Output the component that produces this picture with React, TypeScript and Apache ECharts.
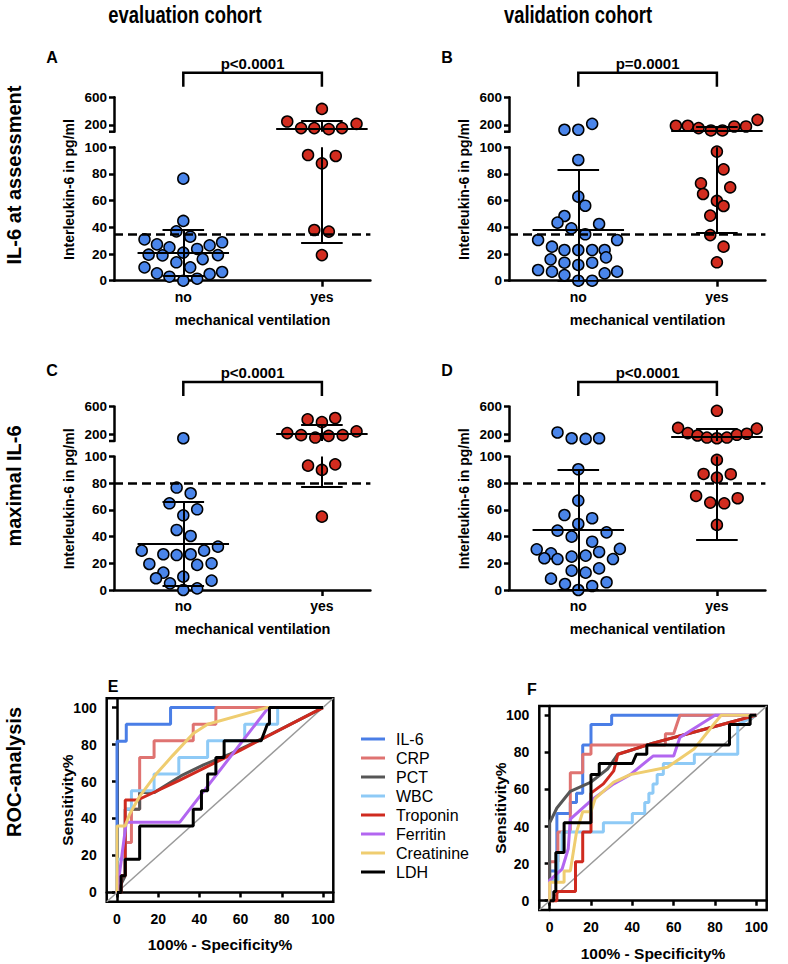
import React, { useEffect, useRef } from "react";
import * as echarts from "echarts";

const FONT = "'Liberation Sans', Arial, Helvetica, sans-serif";
const GROUPS = ["no", "yes"];

// ---- Dot plots: IL-6 values (pg/ml) and horizontal jitter (category units) ----
const aNoVals = [76.5, 44.8, 37, 33, 31, 28.8, 27.2, 25, 23.8, 26.5, 19.5, 19, 21, 19.2, 16.2, 13.8, 10, 10, 5.5, 5, 6.5, 3, 1.5, 0];
const aNoOff = [0, 0, -0.05, 0.05, -0.28, 0.28, -0.19, -0.1, 0.1, 0.19, -0.25, -0.15, 0, 0.25, 0.14, -0.05, -0.28, 0.05, -0.19, 0.19, 0.28, -0.1, 0.1, 0];
const aYesVals = [431, 248, 214, 152, 152, 137, 152, 94.2, 93.5, 88, 38, 36.8, 19.2];
const aYesOff = [0, -0.25, 0.25, -0.15, -0.055, 0.05, 0.145, -0.1, 0.1, 0, -0.055, 0.05, 0];
const aNoStats = [21, 4, 38]; // median, lower, upper
const aYesStats = [142, 28.8, 258];

const bNoVals = [128, 128, 214, 90.5, 63, 56.2, 48.5, 43.5, 42.5, 39.2, 34.8, 30.5, 30.5, 25.5, 23, 23, 23, 23, 16, 17.5, 13.5, 11.8, 13.5, 8, 6.8, 5.5, 6.8, 4.2, 0, 0];
const bNoOff = [-0.1, 0, 0.1, 0, 0, 0.05, -0.1, -0.15, 0.15, -0.05, 0.05, -0.29, 0.28, -0.19, -0.1, 0, 0.1, 0.19, -0.2, 0.2, -0.1, 0, 0.1, -0.29, -0.19, 0.19, 0.28, -0.1, 0, 0.1];
const bYesVals = [186, 186, 152, 118, 118, 176, 176, 272, 96.8, 83.5, 73, 70, 65, 59.8, 56, 48.8, 34.2, 25.5, 13.8];
const bYesOff = [-0.296, -0.21, -0.132, -0.043, 0.04, 0.125, 0.21, 0.293, 0, 0.048, -0.115, 0.096, -0.1, 0, 0.048, -0.048, -0.048, 0.048, 0];
const bNoStats = [38, 0, 83];
const bYesStats = [121, 36.2, 166];

const cNoVals = [140, 76.8, 72.5, 65, 60.5, 56, 45, 40.5, 32.5, 29.5, 26.8, 26.2, 26.8, 29.5, 19.5, 18.8, 20, 13, 8.8, 10, 7, 5, 1.2, 0];
const cNoOff = [0, -0.048, 0.053, -0.1, 0.1, 0, -0.048, 0.053, 0.25, -0.3, -0.144, -0.048, 0.053, 0.15, -0.245, 0.1, 0.204, -0.144, -0.197, 0, 0.204, -0.096, 0.1, 0];
const cYesVals = [414, 374, 434, 215, 185, 150, 175, 185, 240, 93.2, 94.2, 90, 55];
const cYesOff = [-0.103, 0, 0.096, -0.25, -0.15, -0.048, 0.048, 0.15, 0.25, -0.1, 0.096, 0, 0];
const cNoStats = [34.5, 3.5, 66];
const cYesStats = [205, 77.5, 330];

const dNoVals = [224, 140, 130, 140, 90.5, 67, 56.2, 53.8, 49.5, 44.5, 43.2, 40, 36.2, 30.5, 30.8, 27.5, 28.5, 23.8, 23.2, 25, 25.8, 23.2, 14.5, 13, 16.2, 8.5, 4.5, 3, 5.8, 0];
const dNoOff = [-0.15, -0.048, 0.053, 0.15, 0, 0, -0.1, 0.1, 0, -0.15, 0.204, -0.048, 0.1, -0.3, 0.3, -0.197, 0.15, -0.245, -0.15, -0.048, 0.053, 0.25, -0.048, 0.053, 0.15, -0.197, -0.096, 0.1, 0.204, 0];
const dYesVals = [539, 290, 215, 180, 150, 140, 150, 190, 205, 280, 97.5, 87, 86.8, 84.2, 70.5, 65.5, 65, 68.8, 48.8];
const dYesOff = [0, -0.28, -0.21, -0.14, -0.072, 0, 0.072, 0.144, 0.216, 0.288, 0, -0.096, 0.1, 0, -0.15, -0.048, 0.053, 0.15, 0];
const dNoStats = [45, 0, 90];
const dYesStats = [165, 37.5, 275];

const LOWER_TICKS_STEP = 20;
const UPPER_TICKS = [200, 600];

// ---- ROC curves: [100% - specificity %, sensitivity %] ----
const ROC_NAMES = ["IL-6", "CRP", "PCT", "WBC", "Troponin", "Ferritin", "Creatinine", "LDH"];
const ROC_COLORS = ["#4a7ee6", "#df7371", "#565656", "#8ecaf6", "#cf2a1f", "#b266f0", "#efcd70", "#000000"];

const eIL6 = [[0, 0], [0, 81.8], [4.5, 81.8], [4.5, 90.9], [26, 90.9], [26, 100], [100, 100]];
const eCRP = [[0, 0], [0, 9], [4, 9], [4, 27], [7, 27], [7, 45], [11, 45], [11, 73], [18, 73], [18, 82], [37, 82], [37, 91], [48, 91], [48, 100], [100, 100]];
const ePCT = [[0, 0], [4, 9], [4, 45], [11, 45], [11, 54], [18, 54], [31, 63], [42, 69], [55, 75], [72, 84], [100, 100]];
const eWBC = [[0, 0], [0, 18], [4, 18], [4, 45], [7, 45], [7, 55], [18, 55], [18, 64], [30, 64], [30, 73], [44, 73], [44, 82], [62, 82], [62, 91], [78, 91], [78, 100], [100, 100]];
const eTrop = [[0, 0], [2, 0], [2, 9], [4, 9], [4, 50], [10, 50], [30, 60.5], [60, 77], [100, 100]];
const eFerr = [[0, 0], [4.5, 38], [30.5, 38], [73.5, 100], [100, 100]];
const eCrea = [[0, 0], [0, 36], [4, 36], [6, 42], [11, 52], [19, 64], [27, 74], [37, 86], [44, 91], [73, 100], [100, 100]];
const eLDH = [[0, 0], [2, 0], [2, 9], [4, 9], [4, 18], [11, 18], [11, 36], [37, 36], [37, 45], [41, 45], [41, 55], [44, 55], [44, 64], [48, 64], [48, 73], [52, 73], [52, 82], [70, 82], [73, 91], [74, 91], [74, 100], [100, 100]];

const fIL6 = [[0, 0], [0, 16], [3.5, 16], [3.5, 47], [10, 47], [10, 53], [13, 53], [13, 58], [16, 58], [16, 84], [20, 84], [20, 95], [30, 95], [30, 100], [100, 100]];
const fCRP = [[0, 0], [0, 21], [4, 21], [4, 37], [10, 37], [10, 69], [16, 69], [16, 79], [20, 79], [20, 84], [56, 84], [56, 90], [60, 90], [63, 100], [100, 100]];
const fPCT = [[0, 0], [0, 42], [3.5, 50], [10, 59], [20, 64], [28, 71], [33, 79], [39, 81], [50, 85], [70, 91], [100, 100]];
const fWBC = [[0, 0], [0, 11], [4, 11], [4, 26], [6, 26], [6, 37], [26, 37], [26, 42], [40, 42], [40, 47], [46, 47], [46, 53], [48, 53], [48, 58], [50, 58], [50, 63], [52, 63], [52, 68], [55, 68], [55, 74], [70, 74], [70, 79], [91, 79], [91, 95], [100, 100]];
const fTrop = [[0, 0], [3.5, 0], [3.5, 5], [12.5, 5], [12.5, 21], [16, 21], [16, 37], [20, 37], [20, 58], [26, 63], [31, 70], [33, 79], [50, 85], [70, 91], [100, 100]];
const fFerr = [[0, 0], [0, 11], [6, 17], [9, 28], [10, 44], [20, 54], [31, 63], [39, 68], [50, 78], [60, 78], [63, 88], [70, 93], [80, 100], [100, 100]];
const fCrea = [[0, 0], [0, 10], [7, 10], [7, 16], [10, 16], [13, 37], [16, 48], [20, 48], [22, 55], [31, 64], [39, 68], [57, 72], [70, 82], [80, 96], [83, 100], [100, 100]];
const fLDH = [[0, 0], [2, 0], [2, 5], [3, 5], [3, 26], [7, 26], [7, 42], [20, 42], [20, 68], [24, 68], [24, 74], [40, 74], [42, 79], [47, 79], [47, 84], [87, 84], [87, 95], [97, 95], [97, 100], [100, 100]];
const ROC_TICKS = [0, 20, 40, 60, 80, 100];

const BLUE = "#4a85ea";
const RED = "#d22c1f";

const PX_UNIT = 138.6;
const XMIN = 0.5;
const XMAX = 2.35;

const dotPanels = [
  { letter: "A", noX: 183.3, T: 0, ly: 57, p: "p<0.0001", cut: 35, no: [aNoVals, aNoOff, aNoStats], yes: [aYesVals, aYesOff, aYesStats] },
  { letter: "B", noX: 578.3, T: 0, ly: 57, p: "p=0.0001", cut: 35, no: [bNoVals, bNoOff, bNoStats], yes: [bYesVals, bYesOff, bYesStats] },
  { letter: "C", noX: 183.3, T: 309.3, ly: 370, p: "p<0.0001", cut: 80, no: [cNoVals, cNoOff, cNoStats], yes: [cYesVals, cYesOff, cYesStats] },
  { letter: "D", noX: 578.3, T: 309.3, ly: 370, p: "p<0.0001", cut: 80, no: [dNoVals, dNoOff, dNoStats], yes: [dYesVals, dYesOff, dYesStats] },
];

const rocPanels = [
  { letter: "E", left: 106.7, top: 698.3, width: 226.6, height: 203.4, lx: 113, ly: 686, data: [eIL6, eCRP, ePCT, eWBC, eTrop, eFerr, eCrea, eLDH] },
  { letter: "F", left: 539.3, top: 706, width: 227.4, height: 204, lx: 532, ly: 689, data: [fIL6, fCRP, fPCT, fWBC, fTrop, fFerr, fCrea, fLDH] },
];

function barSegments(x: number, st: number[], dmin: number, dmax: number) {
  const [m, lo, hi] = st;
  const segs: number[][][] = [];
  const inD = (v: number) => v >= dmin && v <= dmax;
  if (inD(m)) segs.push([[x - 0.33, m], [x + 0.33, m]]);
  if (inD(lo)) segs.push([[x - 0.15, lo], [x + 0.15, lo]]);
  if (inD(hi)) segs.push([[x - 0.15, hi], [x + 0.15, hi]]);
  const a = Math.max(lo, dmin);
  const b = Math.min(hi, dmax);
  if (b > a) segs.push([[x, a], [x, b]]);
  return segs;
}

const axisStroke = { color: "#000", width: 2.5 };
const tickLabel = { color: "#000", fontFamily: FONT, fontWeight: "bold" as const, fontSize: 13.5 };

function buildOption() {
  const grid: any[] = [];
  const xAxis: any[] = [];
  const yAxis: any[] = [];
  const series: any[] = [];
  const graphic: any[] = [];

  const txt = (text: string, x: number, y: number, size: number, extra: any = {}) => ({
    type: "text",
    x,
    y,
    rotation: extra.rotation || 0,
    scaleX: extra.scaleX || 1,
    silent: true,
    style: {
      text,
      fontFamily: FONT,
      fontWeight: extra.weight || "bold",
      fontSize: size,
      fill: "#000",
      align: "center",
      verticalAlign: "middle",
    },
  });

  graphic.push(txt("evaluation cohort", 185, 15, 23, { scaleX: 0.8 }));
  graphic.push(txt("validation cohort", 578, 15, 23, { scaleX: 0.8 }));
  graphic.push(txt("IL-6 at assessment", 14, 175, 20, { rotation: Math.PI / 2 }));
  graphic.push(txt("maximal IL-6", 14, 486, 20, { rotation: Math.PI / 2 }));
  graphic.push(txt("ROC-analysis", 14, 772, 20, { rotation: Math.PI / 2 }));

  dotPanels.forEach((p) => {
    const left = p.noX - (1 - XMIN) * PX_UNIT;
    const width = (XMAX - XMIN) * PX_UNIT;
    const segsDef = [
      { top: 147.3 + p.T, height: 133.4, dmin: 0, dmax: 100, lower: true },
      { top: 97.3 + p.T, height: 34.4, dmin: 100, dmax: 600, lower: false },
    ];
    segsDef.forEach((s) => {
      const gi = grid.length;
      grid.push({ left, top: s.top, width, height: s.height });
      xAxis.push(
        s.lower
          ? {
              type: "value",
              gridIndex: gi,
              min: XMIN,
              max: XMAX,
              axisLine: { show: true, lineStyle: axisStroke },
              axisTick: { show: true, customValues: [1, 2], length: 6, lineStyle: axisStroke },
              axisLabel: { ...tickLabel, fontSize: 14, customValues: [1, 2], margin: 9, formatter: (v: number) => GROUPS[Math.round(v) - 1] },
              splitLine: { show: false },
            }
          : { type: "value", gridIndex: gi, min: XMIN, max: XMAX, show: false, splitLine: { show: false } }
      );
      yAxis.push(
        s.lower
          ? {
              type: "value",
              gridIndex: gi,
              min: 0,
              max: 100,
              interval: LOWER_TICKS_STEP,
              axisLine: { show: true, lineStyle: axisStroke },
              axisTick: { show: true, length: 5, lineStyle: axisStroke },
              axisLabel: { ...tickLabel, margin: 7 },
              splitLine: { show: false },
            }
          : {
              type: "value",
              gridIndex: gi,
              min: 100,
              max: 600,
              axisLine: { show: true, lineStyle: axisStroke },
              axisTick: { show: true, length: 5, customValues: UPPER_TICKS, lineStyle: axisStroke },
              axisLabel: { ...tickLabel, margin: 7, customValues: UPPER_TICKS },
              splitLine: { show: false },
            }
      );
      const groupData = [p.no, p.yes];
      groupData.forEach((g, k) => {
        const [vals, offs] = g as number[][];
        const data: number[][] = [];
        vals.forEach((v, i) => {
          const inSeg = s.lower ? v <= 100 : v > 100;
          if (inSeg) data.push([k + 1 + offs[i], v]);
        });
        series.push({
          type: "scatter",
          xAxisIndex: gi,
          yAxisIndex: gi,
          clip: false,
          symbol: "circle",
          symbolSize: 11,
          itemStyle: { color: k === 0 ? BLUE : RED, borderColor: "#000", borderWidth: 1.5, opacity: 1 },
          z: 3,
          data,
        });
      });
      const lineData: any[] = [];
      groupData.forEach((g, k) => {
        const st = (g as number[][])[2];
        barSegments(k + 1, st, s.dmin, s.dmax).forEach((seg) => lineData.push({ coords: seg }));
      });
      series.push({
        type: "lines",
        coordinateSystem: "cartesian2d",
        xAxisIndex: gi,
        yAxisIndex: gi,
        polyline: false,
        silent: true,
        z: 5,
        lineStyle: { color: "#000", width: 2, opacity: 1 },
        data: lineData,
        markLine: s.lower
          ? {
              symbol: "none",
              silent: true,
              label: { show: false },
              lineStyle: { color: "#000", width: 2.5, type: [9, 5] },
              data: [{ yAxis: p.cut }],
            }
          : undefined,
      });
    });
    // panel decorations
    const yesX = p.noX + PX_UNIT;
    graphic.push(txt(p.letter, left - 62, p.ly, 16));
    graphic.push(txt(p.p, (p.noX + yesX) / 2, 63.3 + p.T, 15));
    graphic.push({
      type: "polyline",
      silent: true,
      shape: { points: [[p.noX, 86.7 + p.T], [p.noX, 72.7 + p.T], [yesX, 72.7 + p.T], [yesX, 86.7 + p.T]] },
      style: { stroke: "#000", lineWidth: 2.5, fill: null },
    });
    graphic.push(txt("Interleukin-6 in pg/ml", left - 45, 189.5 + p.T, 14, { rotation: Math.PI / 2 }));
    graphic.push(txt("mechanical ventilation", (p.noX + yesX) / 2, 320 + p.T, 14.5));
    graphic.push({
      type: "line",
      silent: true,
      shape: { x1: left - 5, y1: 131.7 + p.T, x2: left, y2: 131.7 + p.T },
      style: { stroke: "#000", lineWidth: 2.5 },
    });
  });

  rocPanels.forEach((r) => {
    const gi = grid.length;
    grid.push({ left: r.left, top: r.top, width: r.width, height: r.height, show: true, borderColor: "#000", borderWidth: 2.5, backgroundColor: "transparent" });
    const common = {
      type: "value",
      gridIndex: gi,
      min: -5,
      max: 105,
      axisLine: { show: true, lineStyle: axisStroke },
      axisTick: { show: true, length: 5, customValues: ROC_TICKS, lineStyle: axisStroke },
      axisLabel: { ...tickLabel, fontSize: 14, margin: 10, customValues: ROC_TICKS },
      splitLine: { show: false },
    };
    xAxis.push({ ...common });
    yAxis.push({ ...common });
    series.push({
      type: "line",
      xAxisIndex: gi,
      yAxisIndex: gi,
      symbol: "none",
      silent: true,
      lineStyle: { color: "#9a9a9a", width: 1.5 },
      z: 2,
      data: [[-5, -5], [105, 105]],
    });
    r.data.forEach((d, i) => {
      series.push({
        name: ROC_NAMES[i],
        type: "line",
        xAxisIndex: gi,
        yAxisIndex: gi,
        symbol: "none",
        showSymbol: false,
        color: ROC_COLORS[i],
        lineStyle: { color: ROC_COLORS[i], width: 3 },
        z: 3 + i,
        data: d,
      });
    });
    graphic.push(txt(r.letter, r.lx, r.ly, 16));
    graphic.push(txt("Sensitivity%", r.left - 39, r.top + r.height / 2, 15.5, { rotation: Math.PI / 2 }));
    graphic.push(txt("100% - Specificity%", r.left + r.width / 2, r.top + r.height + 43, 15.5));
  });

  return {
    animation: false,
    backgroundColor: "#ffffff",
    grid,
    xAxis,
    yAxis,
    series,
    graphic,
    legend: {
      orient: "vertical",
      left: 356,
      top: 726,
      itemWidth: 24,
      itemHeight: 3,
      itemGap: 3,
      icon: "rect",
      selectedMode: false,
      data: ROC_NAMES,
      textStyle: { fontFamily: FONT, fontSize: 16, lineHeight: 16, color: "#000", padding: [0, 0, 0, 6] },
    },
  };
}

export default function App() {
  const ref = useRef<HTMLDivElement>(null);
  useEffect(() => {
    if (!ref.current) return;
    const chart = echarts.init(ref.current, null, { renderer: "svg" });
    chart.setOption(buildOption() as any);
    return () => chart.dispose();
  }, []);
  return <div ref={ref} style={{ position: "absolute", left: 0, top: 0, width: 788, height: 964, background: "#fff" }} />;
}
